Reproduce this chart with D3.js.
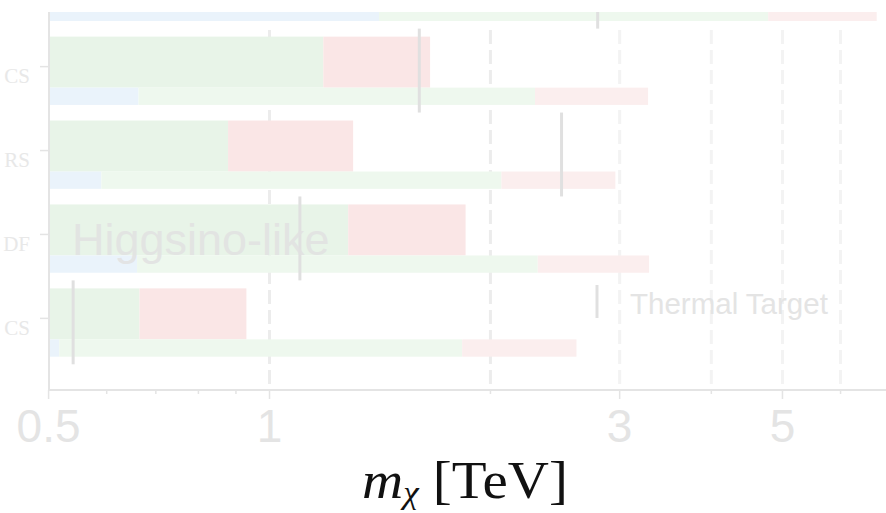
<!DOCTYPE html>
<html>
<head>
<meta charset="utf-8">
<script src="https://cdn.jsdelivr.net/npm/d3@7"></script>
<style>
  html, body { margin: 0; padding: 0; background: #fff; }
  svg { display: block; }
</style>
</head>
<body>
<svg id="chart" width="886" height="513"></svg>
<script>
// ---- data (TeV) ----
const categories = ["Wino DT", "CS", "RS", "DF", "CS"];
const mainGreen = [null, 1.184, 0.878, 1.28, 0.665];
const mainRed   = [null, 1.655, 1.30, 1.85, 0.93];
const subBlue   = [1.41, 0.663, 0.59, 0.66, 0.517];
const subGreen  = [4.78, 2.30, 2.07, 2.32, 1.83];
const subRed    = [6.72, 3.28, 2.96, 3.29, 2.62];
const thermal   = [2.80, 1.60, 2.50, 1.10, 0.54];
const majorTicks = [0.5, 1, 3, 5];
const minorTicks = [0.6, 0.7, 0.8, 0.9, 2, 4, 6];
const gridValues = [1, 2, 3, 4, 5, 6];

(function () {
const svg = d3.select("#chart");
const pLeft = 49, pRight = 886, pTop = 12, pBottom = 390;

const x = d3.scaleLog().domain([0.5, 7]).range([48.6, 889.7]);
const ids = categories.map((d, i) => i);
const y = d3.scaleBand().domain(ids).range([-55.3, 364.3]).paddingInner(0).paddingOuter(0);
const bw = y.bandwidth();

svg.append("defs").append("clipPath").attr("id", "plotclip")
  .append("rect").attr("x", pLeft).attr("y", pTop).attr("width", pRight - pLeft).attr("height", pBottom - pTop);

const plot = svg.append("g").attr("clip-path", "url(#plotclip)");

// gridlines
plot.selectAll("line.grid").data(gridValues).enter().append("line")
  .attr("class", "grid")
  .attr("x1", d => x(d)).attr("x2", d => x(d))
  .attr("y1", 30).attr("y2", pBottom)
  .attr("stroke", d => d <= 2 ? "#ececec" : "#f3f3f3")
  .attr("stroke-width", 3)
  .attr("stroke-dasharray", "14,6");

// bars
const upperTop = 8, upperH = 51, lowerTop = 59, lowerH = 17.3;
function bars(values, from, cls, color, yOff, h) {
  plot.selectAll("rect." + cls).data(ids.filter(i => values[i] != null)).enter().append("rect")
    .attr("class", cls)
    .attr("x", i => x(from ? from[i] : 0.5))
    .attr("width", i => x(values[i]) - x(from ? from[i] : 0.5))
    .attr("y", i => y(i) + yOff)
    .attr("height", h)
    .attr("fill", color);
}
bars(mainGreen, null, "mg", "#e8f4e8", upperTop, upperH);
bars(mainRed, mainGreen, "mr", "#fae6e6", upperTop, upperH);
bars(subBlue, null, "sb", "#eaf3fb", lowerTop, lowerH);
bars(subGreen, subBlue, "sg", "#eef8ee", lowerTop, lowerH);
bars(subRed, subGreen, "sr", "#fbeeee", lowerTop, lowerH);

// Higgsino-like label
svg.append("text")
  .attr("x", 72).attr("y", 255)
  .attr("font-family", "Liberation Sans, Arial, sans-serif")
  .attr("font-size", 45)
  .attr("fill", "#e2e2e2")
  .attr("fill-opacity", 0.9)
  .text("Higgsino-like");

// thermal target lines
plot.selectAll("line.thermal").data(ids).enter().append("line")
  .attr("class", "thermal")
  .attr("x1", i => x(thermal[i])).attr("x2", i => x(thermal[i]))
  .attr("y1", i => y(i)).attr("y2", i => y(i) + bw)
  .attr("stroke", "#e0e0e0").attr("stroke-width", 3);

// axis lines
svg.append("line").attr("x1", pLeft).attr("x2", pLeft).attr("y1", pTop).attr("y2", pBottom + 1)
  .attr("stroke", "#e4e4e4").attr("stroke-width", 2);
svg.append("line").attr("x1", pLeft - 1).attr("x2", pRight).attr("y1", pBottom).attr("y2", pBottom)
  .attr("stroke", "#e4e4e4").attr("stroke-width", 2);

// x ticks
svg.selectAll("line.xmaj").data(majorTicks).enter().append("line")
  .attr("x1", d => x(d)).attr("x2", d => x(d)).attr("y1", pBottom).attr("y2", pBottom + 9)
  .attr("stroke", "#e4e4e4").attr("stroke-width", 1.5);
svg.selectAll("line.xmin").data(minorTicks).enter().append("line")
  .attr("x1", d => x(d)).attr("x2", d => x(d)).attr("y1", pBottom).attr("y2", pBottom + 4)
  .attr("stroke", "#e4e4e4").attr("stroke-width", 1.5);
svg.selectAll("text.xlab").data(majorTicks).enter().append("text")
  .attr("x", d => x(d)).attr("y", 442)
  .attr("text-anchor", "middle")
  .attr("font-family", "Liberation Sans, Arial, sans-serif")
  .attr("font-size", 46)
  .attr("fill", "#e4e4e4")
  .text(d => d3.format("~g")(d));

// y ticks & labels (only those whose tick lies inside the plot)
const tickOff = 38;
const visibleIds = ids.filter(i => y(i) + tickOff >= pTop);
svg.selectAll("line.ytick").data(visibleIds).enter().append("line")
  .attr("x1", pLeft - 9).attr("x2", pLeft)
  .attr("y1", i => y(i) + tickOff).attr("y2", i => y(i) + tickOff)
  .attr("stroke", "#e4e4e4").attr("stroke-width", 1.5);
svg.selectAll("text.ylab").data(visibleIds).enter().append("text")
  .attr("x", 30).attr("y", i => y(i) + tickOff + 16.5)
  .attr("text-anchor", "end")
  .attr("font-family", "Liberation Serif, Times New Roman, serif")
  .attr("font-size", 21)
  .attr("fill", "#e8e8e8")
  .text(i => categories[i].split(" ").slice(-1)[0]);

// legend
svg.append("line").attr("x1", 597).attr("x2", 597).attr("y1", 285).attr("y2", 318)
  .attr("stroke", "#e0e0e0").attr("stroke-width", 3);
svg.append("text").attr("x", 630).attr("y", 314)
  .attr("font-family", "Liberation Sans, Arial, sans-serif")
  .attr("font-size", 29.5)
  .attr("fill", "#e4e4e4")
  .text("Thermal Target");

// axis title
const t = svg.append("text")
  .attr("x", 465).attr("y", 498)
  .attr("text-anchor", "middle")
  .attr("font-family", "Liberation Serif, Times New Roman, serif")
  .attr("font-size", 52)
  .attr("fill", "#111")
  .attr("textLength", 206)
  .attr("lengthAdjust", "spacingAndGlyphs");
t.append("tspan").attr("font-style", "italic").text("m");
t.append("tspan").attr("font-style", "italic").attr("font-size", 32).attr("dy", 5).text("χ");
t.append("tspan").attr("dy", -5).text(" [TeV]");
})();
</script>
</body>
</html>
